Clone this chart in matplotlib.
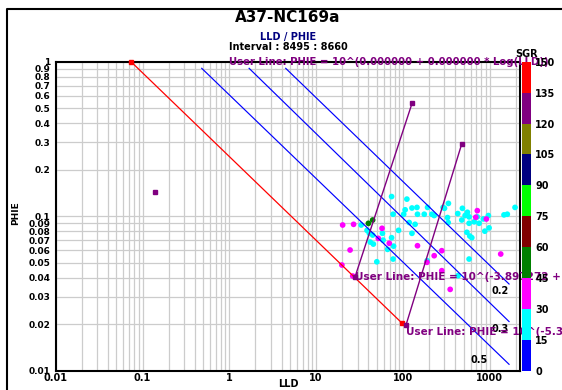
import matplotlib
matplotlib.use("Agg")
import matplotlib.pyplot as plt
from matplotlib.colors import ListedColormap, BoundaryNorm
from matplotlib.ticker import FixedLocator, FixedFormatter, NullFormatter, NullLocator
from matplotlib.lines import Line2D
import matplotlib.cm as cm

plt.rcParams['font.family'] = ['DejaVu Sans']
plt.rcParams['font.weight'] = 'bold'

# ---------------- data ----------------
title = "A37-NC169a"
subtitle = "LLD / PHIE"
interval = "Interval : 8495 : 8660"

cyan_lld = [74, 111, 77, 106, 127, 145, 102, 147, 176, 215, 229, 192, 290, 334, 301, 326, 332,
            484, 428, 553, 520, 578, 719, 964, 476, 578, 661, 754, 844, 982, 877, 545, 589, 621,
            1459, 1592, 1954, 118, 138, 89, 127, 58, 74, 78, 59, 66.5, 42, 45.6, 33, 41, 50, 77,
            190, 578, 431, 38.6, 44.8]
cyan_phie = [0.134, 0.129, 0.103, 0.110, 0.113, 0.114, 0.103, 0.103, 0.103, 0.103, 0.101, 0.114,
             0.114, 0.121, 0.1125, 0.098, 0.091, 0.1125, 0.104, 0.106, 0.101, 0.099, 0.099, 0.101,
             0.0945, 0.090, 0.092, 0.090, 0.096, 0.084, 0.080, 0.0787, 0.0744, 0.0726, 0.102, 0.103,
             0.114, 0.091, 0.0886, 0.081, 0.0775, 0.0775, 0.0726, 0.064, 0.070, 0.061, 0.068, 0.066,
             0.0877, 0.0775, 0.0507, 0.0528, 0.0515, 0.0528, 0.0412, 0.081, 0.0755]
cyan_sgr = 24

magenta_lld = [20.2, 27.0, 57.4, 52, 69.6, 24.6, 19.8, 147, 280, 229, 189, 280, 350, 719, 690,
               914, 1337, 26.4]
magenta_phie = [0.0877, 0.0886, 0.0835, 0.0719, 0.0668, 0.0604, 0.0483, 0.0644, 0.0598, 0.0555,
                0.0503, 0.0444, 0.0336, 0.1086, 0.0984, 0.0959, 0.0569, 0.041]
magenta_sgr = 37

green_lld = [40, 44.8]
green_phie = [0.0899, 0.0945]
green_sgr = 52

# SGR colour scale
sgr_bounds = [0, 15, 30, 45, 60, 75, 90, 105, 120, 135, 150]
sgr_colors = ['#0000FF', '#00FFFF', '#FF00FF', '#008000', '#800000',
              '#00FF00', '#000080', '#808000', '#800080', '#FF0000']

# Sw = 1 (Rw) line
rw_lld = [0.0737, 96.8]
rw_phie = [1.0, 0.0204]

# Sw lines
sw_labels = ['0.5', '0.3', '0.2']
sw_lld_start = [0.481, 1.69, 4.46]
sw_phie_start = [0.906, 0.906, 0.906]
sw_lld_end = [1668, 1668, 1668]
sw_phie_end = [0.0110, 0.0208, 0.0364]

# user lines
user1_lld = [28.1, 127.3]
user1_phie = [0.0406, 0.538]
user1_text = "User Line: PHIE = 10^(-3.897272 + "
user2_lld = [108.6, 475]
user2_phie = [0.0198, 0.293]
user2_text = "User Line: PHIE = 10^(-5.3"
user0_lld = 1.0
user0_phie = 1.0
user0_text = "User Line: PHIE = 10^(0.000000 + 0.000000 * Log(LLD))"
user_point_lld = [0.139]
user_point_phie = [0.143]

x_ticks = [0.01, 0.1, 1, 10, 100, 1000]
x_ticklabels = ['0.01', '0.1', '1', '10', '100', '1000']
y_ticks = [0.01, 0.02, 0.03, 0.04, 0.05, 0.06, 0.07, 0.08, 0.09,
           0.1, 0.2, 0.3, 0.4, 0.5, 0.6, 0.7, 0.8, 0.9, 1]
y_ticklabels = ['0.01', '0.02', '0.03', '0.04', '0.05', '0.06', '0.07', '0.08', '0.09',
                '0.1', '0.2', '0.3', '0.4', '0.5', '0.6', '0.7', '0.8', '0.9', '1']
x_grid = [m * 10.0 ** e for e in range(-2, 4) for m in range(1, 10)]
x_lim = (0.01, 2230)
y_lim = (0.01, 1)

# ---------------- figure ----------------
W, H = 562, 390
fig = plt.figure(figsize=(W / 100, H / 100), dpi=100)


def px_box(l, t, r, b):
    return [l / W, 1 - b / H, (r - l) / W, (b - t) / H]


ax = fig.add_axes(px_box(55.7, 61.7, 520, 370.7))
ax.set_xscale('log')
ax.set_yscale('log')
ax.set_xlim(*x_lim)
ax.set_ylim(*y_lim)

ax.xaxis.set_major_locator(FixedLocator(x_ticks))
ax.xaxis.set_major_formatter(FixedFormatter(x_ticklabels))
ax.xaxis.set_minor_locator(FixedLocator(x_grid))
ax.xaxis.set_minor_formatter(NullFormatter())
ax.yaxis.set_major_locator(FixedLocator(y_ticks))
ax.yaxis.set_major_formatter(FixedFormatter(y_ticklabels))
ax.yaxis.set_minor_locator(NullLocator())
ax.tick_params(which='both', length=0)
ax.tick_params(axis='x', labelsize=7, pad=2)
ax.tick_params(axis='y', labelsize=6.5, pad=4)
ax.grid(which='both', color='#cccccc', lw=0.9)
ax.set_axisbelow(True)
for s in ax.spines.values():
    s.set_color('black')
    s.set_linewidth(1.5)

cmap = ListedColormap(sgr_colors)
norm = BoundaryNorm(sgr_bounds, cmap.N)

for xs, ys, sg in [(cyan_lld, cyan_phie, cyan_sgr),
                   (magenta_lld, magenta_phie, magenta_sgr),
                   (green_lld, green_phie, green_sgr)]:
    ax.scatter(xs, ys, c=[sg] * len(xs), cmap=cmap, norm=norm, s=17,
               edgecolors='none', zorder=3)

# Rw line
ax.plot(rw_lld, rw_phie, color='red', lw=0.9, marker='s', ms=3.2, zorder=4, clip_on=False)

# Sw lines
for lab, x0, y0, x1, y1 in zip(sw_labels, sw_lld_start, sw_phie_start, sw_lld_end, sw_phie_end):
    ax.plot([x0, x1], [y0, y1], color='blue', lw=0.85, zorder=4)
sw_label_offsets = {'0.5': (-15, 3), '0.3': (0, -5), '0.2': (0, -5)}
for lab, x1, y1 in zip(sw_labels, sw_lld_end, sw_phie_end):
    dx, dy = sw_label_offsets[lab]
    ax.annotate(lab, (x1, y1), xytext=(dx, dy), textcoords='offset points',
                ha='right', va='center', fontsize=7, fontweight='bold', color='black', zorder=6)

purple = '#800080'
ax.plot(user1_lld, user1_phie, color=purple, lw=1.0, marker='s', ms=3, zorder=5)
ax.plot(user2_lld, user2_phie, color=purple, lw=1.0, marker='s', ms=3, zorder=5)
ax.plot(user_point_lld, user_point_phie, ls='none', color=purple, marker='s', ms=3.2, zorder=5)

ax.annotate(user1_text, (user1_lld[0], user1_phie[0]), xytext=(0, 0), textcoords='offset points',
            ha='left', va='center', fontsize=7.5, fontweight='bold', color=purple,
            annotation_clip=False, zorder=7)
ax.annotate(user2_text, (user2_lld[0], user2_phie[0]), xytext=(0, -1.5), textcoords='offset points',
            ha='left', va='top', fontsize=7.5, fontweight='bold', color=purple,
            annotation_clip=False, zorder=7)
ax.annotate(user0_text, (user0_lld, user0_phie), xytext=(0, 0), textcoords='offset points',
            ha='left', va='center', fontsize=7.3, fontweight='bold', color=purple,
            annotation_clip=False, zorder=7)

# colour bar
cax = fig.add_axes(px_box(522.3, 61.7, 531, 370.7))
sm = cm.ScalarMappable(norm=norm, cmap=cmap)
cb = fig.colorbar(sm, cax=cax, ticks=sgr_bounds)
cb.outline.set_visible(False)
cb.ax.tick_params(length=0, labelsize=7, pad=3)
fig.text(527 / W, 1 - 54 / H, 'SGR', ha='center', va='center', fontsize=7, fontweight='bold')

# titles
fig.text(288 / W, 1 - 18 / H, title, ha='center', va='center', fontsize=11, fontweight='bold')
fig.text(288 / W, 1 - 37 / H, subtitle, ha='center', va='center', fontsize=7,
         fontweight='bold', color='#000080')
fig.text(288 / W, 1 - 47.5 / H, interval, ha='center', va='center', fontsize=7, fontweight='bold')

fig.text(288 / W, 1 - 384 / H, 'LLD', ha='center', va='center', fontsize=7, fontweight='bold')
fig.text(16 / W, 1 - 213 / H, 'PHIE', ha='center', va='center', fontsize=6.5,
         fontweight='bold', rotation=90)

# outer frame
fig.add_artist(Line2D([7 / W, 7 / W, 1.0], [0.0, 1 - 9 / H, 1 - 9 / H],
                      transform=fig.transFigure, color='black', lw=1.5))

fig.savefig('out.png', dpi=100)
